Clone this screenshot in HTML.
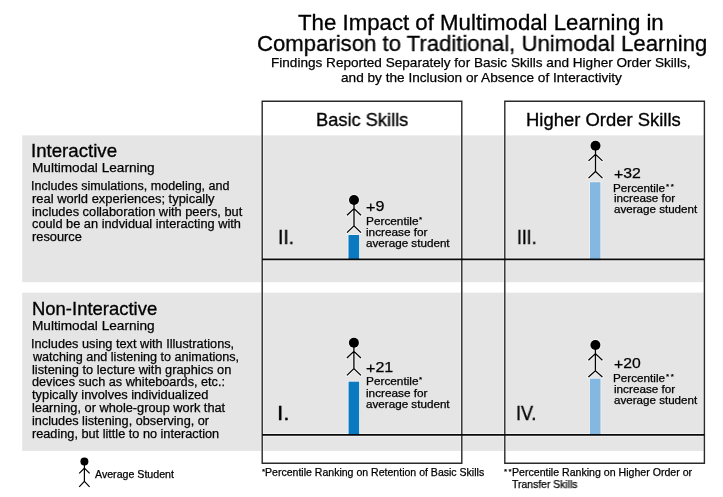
<!DOCTYPE html>
<html><head><meta charset="utf-8"><title>The Impact of Multimodal Learning</title>
<style>
html,body{margin:0;padding:0;background:#fff;}
body{width:723px;height:497px;position:relative;overflow:hidden;font-family:"Liberation Sans",Arial,sans-serif;}
.t{position:absolute;white-space:nowrap;line-height:1;transform-origin:0 0;will-change:transform;-webkit-text-stroke:0.25px currentColor;}
</style></head><body>
<svg width="723" height="497" style="position:absolute;left:0;top:0"><defs><clipPath id="cb"><rect x="22.2" y="135.4" width="681.5" height="146.8"/><rect x="22.2" y="292.6" width="681.5" height="158.3"/></clipPath></defs><rect x="22.2" y="135.4" width="681.5" height="146.8" fill="#e5e5e5"/><rect x="22.2" y="292.6" width="681.5" height="158.3" fill="#e5e5e5"/><g fill="none" stroke="#f3f3f3" clip-path="url(#cb)"><path d="M262.2 463.3 V101.2 H461.8 V463.3 Z" stroke-width="3.0"/><path d="M504.8 463.3 V101.2 H704.4 V463.3 Z" stroke-width="3.0"/><path d="M262.2 259.4 H704.4" stroke-width="3.6"/><path d="M262.2 434.9 H704.4" stroke-width="3.6"/></g><rect x="347.7" y="234.2" width="12.2" height="25" fill="#eef3f7"/><rect x="589.2" y="181.4" width="12.0" height="78" fill="#eef3f7"/><rect x="347.8" y="380.9" width="12.1" height="53.3" fill="#eef3f7"/><rect x="589.1" y="377.9" width="12.2" height="56.5" fill="#eef3f7"/><rect x="348.5" y="235" width="10.6" height="25" fill="#0b79bf"/><rect x="590" y="182.2" width="10.4" height="78" fill="#84b8e0"/><rect x="348.6" y="381.7" width="10.5" height="53.3" fill="#0b79bf"/><rect x="589.9" y="378.7" width="10.6" height="56.5" fill="#84b8e0"/><g fill="none" stroke="#2a2a2a" stroke-width="1.4"><path d="M262.2 463.3 V101.2 H461.8 V463.3 Z"/><path d="M504.8 463.3 V101.2 H704.4 V463.3 Z"/></g><g fill="none" stroke="#0a0a0a" stroke-width="1.8"><path d="M262.2 259.4 H704.4"/><path d="M262.2 434.9 H704.4"/></g><circle cx="354" cy="200" r="5.9" fill="#f4f4f4"/><path d="M354 200 V225.8 M347 215.2 L354 208.6 L361 215.2 M347 232.6 L354 225.8 L361 232.6" stroke="#f4f4f4" stroke-width="2.9" fill="none" stroke-linecap="round"/><circle cx="354" cy="200" r="5" fill="#000"/><path d="M354 200 V225.8 M347 215.2 L354 208.6 L361 215.2 M347 232.6 L354 225.8 L361 232.6" stroke="#000" stroke-width="1.3" fill="none"/><circle cx="595.5" cy="145.7" r="5.9" fill="#f4f4f4"/><path d="M595.5 145.7 V171.5 M588.5 160.9 L595.5 154.3 L602.5 160.9 M588.5 178.1 L595.5 171.5 L602.5 178.1" stroke="#f4f4f4" stroke-width="2.9" fill="none" stroke-linecap="round"/><circle cx="595.5" cy="145.7" r="5" fill="#000"/><path d="M595.5 145.7 V171.5 M588.5 160.9 L595.5 154.3 L602.5 160.9 M588.5 178.1 L595.5 171.5 L602.5 178.1" stroke="#000" stroke-width="1.3" fill="none"/><circle cx="353.9" cy="342.8" r="5.9" fill="#f4f4f4"/><path d="M353.9 342.8 V368.6 M346.9 358 L353.9 351.4 L360.9 358 M346.9 375.4 L353.9 368.6 L360.9 375.4" stroke="#f4f4f4" stroke-width="2.9" fill="none" stroke-linecap="round"/><circle cx="353.9" cy="342.8" r="5" fill="#000"/><path d="M353.9 342.8 V368.6 M346.9 358 L353.9 351.4 L360.9 358 M346.9 375.4 L353.9 368.6 L360.9 375.4" stroke="#000" stroke-width="1.3" fill="none"/><circle cx="595.4" cy="345" r="5.9" fill="#f4f4f4"/><path d="M595.4 345 V370.8 M588.4 360.2 L595.4 353.6 L602.4 360.2 M588.4 376.9 L595.4 370.8 L602.4 376.9" stroke="#f4f4f4" stroke-width="2.9" fill="none" stroke-linecap="round"/><circle cx="595.4" cy="345" r="5" fill="#000"/><path d="M595.4 345 V370.8 M588.4 360.2 L595.4 353.6 L602.4 360.2 M588.4 376.9 L595.4 370.8 L602.4 376.9" stroke="#000" stroke-width="1.3" fill="none"/><circle cx="84.4" cy="461.5" r="4" fill="#000"/><path d="M84.4 461.5 V481.4 M79.2 473.3 L84.4 468.1 L89.6 473.3 M79.2 486.8 L84.4 481.4 L89.6 486.8" stroke="#000" stroke-width="1.2" fill="none"/></svg>
<div class="t" style="left:297.50px;top:11.91px;font-size:22.20px;transform:scaleX(1.0019);color:#000;-webkit-text-stroke-width:0.32px;">The Impact of Multimodal Learning in</div>
<div class="t" style="left:256.58px;top:32.51px;font-size:22.20px;transform:scaleX(0.9975);color:#000;-webkit-text-stroke-width:0.32px;">Comparison to Traditional, Unimodal Learning</div>
<div class="t" style="left:271.49px;top:56.14px;font-size:13.30px;transform:scaleX(1.0208);color:#000;">Findings Reported Separately for Basic Skills and Higher Order Skills,</div>
<div class="t" style="left:341.32px;top:70.84px;font-size:13.30px;transform:scaleX(1.0243);color:#000;">and by the Inclusion or Absence of Interactivity</div>
<div class="t" style="left:316.40px;top:110.72px;font-size:18.40px;transform:scaleX(0.9926);color:#000;-webkit-text-stroke-width:0.32px;">Basic Skills</div>
<div class="t" style="left:526.29px;top:110.72px;font-size:18.40px;transform:scaleX(1.0025);color:#000;-webkit-text-stroke-width:0.32px;">Higher Order Skills</div>
<div class="t" style="left:31.38px;top:143.43px;font-size:17.80px;transform:scaleX(1.0492);color:#000;-webkit-text-stroke-width:0.32px;">Interactive</div>
<div class="t" style="left:31.78px;top:160.64px;font-size:13.30px;transform:scaleX(1.0245);color:#000;">Multimodal Learning</div>
<div class="t" style="left:31.44px;top:180.22px;font-size:12.50px;transform:scaleX(1.0022);color:#000;">Includes simulations, modeling, and</div>
<div class="t" style="left:31.74px;top:193.12px;font-size:12.50px;transform:scaleX(1.0347);color:#000;">real world experiences; typically</div>
<div class="t" style="left:31.74px;top:206.02px;font-size:12.50px;transform:scaleX(1.0257);color:#000;">includes collaboration with peers, but</div>
<div class="t" style="left:32.06px;top:217.92px;font-size:12.50px;transform:scaleX(1.0224);color:#000;">could be an indvidual interacting with</div>
<div class="t" style="left:31.75px;top:230.82px;font-size:12.50px;transform:scaleX(1.0265);color:#000;">resource</div>
<div class="t" style="left:31.58px;top:300.63px;font-size:17.80px;transform:scaleX(1.0384);color:#000;-webkit-text-stroke-width:0.32px;">Non-Interactive</div>
<div class="t" style="left:31.78px;top:318.54px;font-size:13.30px;transform:scaleX(1.0245);color:#000;">Multimodal Learning</div>
<div class="t" style="left:31.42px;top:338.22px;font-size:12.50px;transform:scaleX(1.0186);color:#000;">Includes using text with Illustrations,</div>
<div class="t" style="left:32.62px;top:351.09px;font-size:12.50px;transform:scaleX(1.0084);color:#000;">watching and listening to animations,</div>
<div class="t" style="left:31.74px;top:363.96px;font-size:12.50px;transform:scaleX(1.0244);color:#000;">listening to lecture with graphics on</div>
<div class="t" style="left:32.07px;top:375.83px;font-size:12.50px;transform:scaleX(1.0137);color:#000;">devices such as whiteboards, etc.:</div>
<div class="t" style="left:32.41px;top:388.70px;font-size:12.50px;transform:scaleX(1.0280);color:#000;">typically involves individualized</div>
<div class="t" style="left:31.74px;top:401.57px;font-size:12.50px;transform:scaleX(1.0220);color:#000;">learning, or whole-group work that</div>
<div class="t" style="left:31.75px;top:415.44px;font-size:12.50px;transform:scaleX(1.0152);color:#000;">includes listening, observing, or</div>
<div class="t" style="left:31.76px;top:428.31px;font-size:12.50px;transform:scaleX(1.0164);color:#000;">reading, but little to no interaction</div>
<div class="t" style="left:277.81px;top:227.47px;font-size:20.00px;transform:scaleX(0.9694);color:#000;-webkit-text-stroke-width:0.32px;">II.</div>
<div class="t" style="left:516.78px;top:227.37px;font-size:20.00px;transform:scaleX(0.8785);color:#000;-webkit-text-stroke-width:0.32px;">III.</div>
<div class="t" style="left:277.22px;top:403.07px;font-size:20.00px;transform:scaleX(1.1288);color:#000;-webkit-text-stroke-width:0.32px;">I.</div>
<div class="t" style="left:516.13px;top:403.07px;font-size:20.00px;transform:scaleX(0.9047);color:#000;-webkit-text-stroke-width:0.32px;">IV.</div>
<div class="t" style="left:366.01px;top:198.98px;font-size:14.20px;transform:scaleX(1.1333);color:#000;"><span style="position:relative;top:0.8px">+</span>9</div>
<div class="t" style="left:365.83px;top:217.40px;font-size:10.40px;transform:scaleX(1.1373);color:#000;">Percentile</div>
<div class="t" style="left:419.04px;top:216.03px;font-size:8.00px;letter-spacing:1.688px;color:#000;">*</div>
<div class="t" style="left:366.01px;top:228.30px;font-size:10.40px;transform:scaleX(1.1334);color:#000;">increase for</div>
<div class="t" style="left:366.30px;top:239.20px;font-size:10.40px;transform:scaleX(1.1219);color:#000;">average student</div>
<div class="t" style="left:613.53px;top:166.48px;font-size:14.20px;transform:scaleX(1.1155);color:#000;"><span style="position:relative;top:0.8px">+</span>32</div>
<div class="t" style="left:613.34px;top:183.90px;font-size:10.40px;transform:scaleX(1.1262);color:#000;">Percentile</div>
<div class="t" style="left:666.04px;top:182.63px;font-size:8.00px;letter-spacing:1.688px;color:#000;">**</div>
<div class="t" style="left:613.52px;top:193.70px;font-size:10.40px;transform:scaleX(1.1278);color:#000;">increase for</div>
<div class="t" style="left:613.81px;top:204.60px;font-size:10.40px;transform:scaleX(1.1165);color:#000;">average student</div>
<div class="t" style="left:366.02px;top:359.58px;font-size:14.20px;transform:scaleX(1.1321);color:#000;"><span style="position:relative;top:0.8px">+</span>21</div>
<div class="t" style="left:365.83px;top:376.60px;font-size:10.40px;transform:scaleX(1.1373);color:#000;">Percentile</div>
<div class="t" style="left:419.04px;top:376.23px;font-size:8.00px;letter-spacing:1.688px;color:#000;">*</div>
<div class="t" style="left:366.01px;top:388.90px;font-size:10.40px;transform:scaleX(1.1334);color:#000;">increase for</div>
<div class="t" style="left:366.30px;top:400.20px;font-size:10.40px;transform:scaleX(1.1219);color:#000;">average student</div>
<div class="t" style="left:613.53px;top:355.98px;font-size:14.20px;transform:scaleX(1.1077);color:#000;"><span style="position:relative;top:0.8px">+</span>20</div>
<div class="t" style="left:613.34px;top:374.00px;font-size:10.40px;transform:scaleX(1.1262);color:#000;">Percentile</div>
<div class="t" style="left:666.04px;top:372.73px;font-size:8.00px;letter-spacing:1.688px;color:#000;">**</div>
<div class="t" style="left:613.52px;top:385.10px;font-size:10.40px;transform:scaleX(1.1278);color:#000;">increase for</div>
<div class="t" style="left:613.81px;top:396.10px;font-size:10.40px;transform:scaleX(1.1165);color:#000;">average student</div>
<div class="t" style="left:94.58px;top:470.40px;font-size:10.40px;transform:scaleX(1.0222);color:#000;">Average Student</div>
<div class="t" style="left:261.84px;top:467.73px;font-size:8.00px;letter-spacing:1.688px;color:#000;">*</div>
<div class="t" style="left:265.24px;top:467.01px;font-size:10.50px;transform:scaleX(1.0040);color:#000;">Percentile Ranking on Retention of Basic Skills</div>
<div class="t" style="left:504.44px;top:467.73px;font-size:8.00px;letter-spacing:1.488px;color:#000;">**</div>
<div class="t" style="left:512.13px;top:466.51px;font-size:10.50px;transform:scaleX(1.0087);color:#000;">Percentile Ranking on Higher Order or</div>
<div class="t" style="left:512.07px;top:479.21px;font-size:10.50px;transform:scaleX(0.9909);color:#000;">Transfer Skills</div>
</body></html>
